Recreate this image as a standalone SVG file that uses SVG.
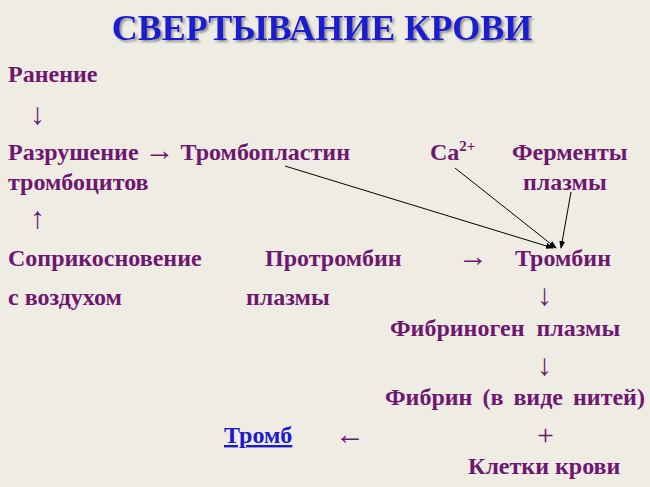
<svg xmlns="http://www.w3.org/2000/svg" width="650" height="487" viewBox="0 0 650 487">
<defs>
<marker id="ah" markerWidth="8" markerHeight="8" refX="7" refY="4" orient="auto" markerUnits="userSpaceOnUse"><path d="M0,1 L8,4 L0,7 Z" fill="#000"/></marker>
<filter id="sh" x="-5%" y="-20%" width="110%" height="140%"><feDropShadow dx="2" dy="2" stdDeviation="0.8" flood-color="#777" flood-opacity="0.8"/></filter>
</defs>
<style>
.t{font-family:"Liberation Serif",serif;font-weight:bold;font-size:24px;fill:#6e1670}
.ar{font-family:"Liberation Serif",serif;font-size:30px;fill:#6e1670}
.ttl{font-family:"Liberation Serif",serif;font-weight:bold;font-size:36px;fill:#1a1ad0}
</style>
<rect width="650" height="487" fill="#efece4"/>
<text x="322" y="40" text-anchor="middle" class="ttl" filter="url(#sh)">СВЕРТЫВАНИЕ КРОВИ</text>
<g id="n1"><text x="8" y="82" class="t">Ранение</text></g>
<text x="30" y="124" class="ar">↓</text>
<g id="n2"><text x="8" y="160" class="t">Разрушение <tspan style="font-size:30px;font-weight:normal">→</tspan> Тромбопластин</text><text x="8" y="190" class="t">тромбоцитов</text></g>
<g id="n3"><text x="430" y="160" class="t">Ca<tspan dy="-9" style="font-size:15px">2+</tspan></text></g>
<g id="n4"><text x="512" y="160" class="t">Ферменты</text><text x="523" y="190" class="t">плазмы</text></g>
<text x="30" y="228" class="ar">↑</text>
<g id="n5"><text x="8" y="266" class="t">Соприкосновение</text><text x="8" y="305" class="t">с воздухом</text></g>
<g id="n6"><text x="265" y="266" class="t">Протромбин</text><text x="246" y="305" class="t">плазмы</text></g>
<text x="458" y="266" class="ar">→</text>
<g id="n7"><text x="515" y="266" class="t">Тромбин</text></g>
<text x="537" y="305" class="ar">↓</text>
<g id="n8"><text x="390" y="336" class="t" word-spacing="6">Фибриноген плазмы</text></g>
<text x="537" y="375" class="ar">↓</text>
<g id="n9"><text x="385" y="405" class="t" word-spacing="4">Фибрин (в виде нитей)</text></g>
<g id="n10"><text x="224" y="443" class="t" style="fill:#1a1ad0;text-decoration:underline">Тромб</text></g>
<text x="335" y="444" class="ar">←</text>
<text x="537" y="445" class="ar">+</text>
<g id="n11"><text x="468" y="474" class="t">Клетки  крови</text></g>
<g id="conn" stroke="#000" stroke-width="1" fill="none">
<line x1="285" y1="166" x2="553" y2="248" marker-end="url(#ah)"/>
<line x1="455" y1="168" x2="556" y2="248" marker-end="url(#ah)"/>
<line x1="571" y1="192" x2="561" y2="248" marker-end="url(#ah)"/>
</g>
</svg>
